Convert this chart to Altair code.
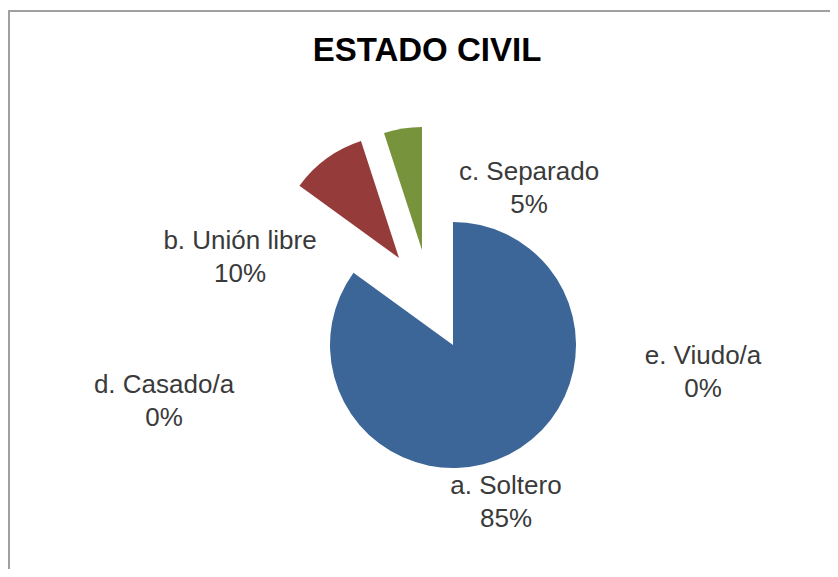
import altair as alt
import pandas as pd

# ---- data ----
categories = ["a. Soltero", "b. Unión libre", "c. Separado", "d. Casado/a", "e. Viudo/a"]
values = [85, 10, 5, 0, 0]

# ---- style / layout (not data) ----
colors = ["#3C6598", "#953B3A", "#77933C", "#4BACC6", "#8064A2"]
explode_dx = [0, -54, -31, 0, 0]
explode_dy = [0, -87, -95, 0, 0]
label_dx = [53, -213, 76, -289, 250]
label_dy = [141, -104, -173, 40, 11]

W, H = 822, 561
CX, CY = 445, 337   # pie centre in chart coords
R = 123

df = pd.DataFrame({
    "cat": categories,
    "value": values,
    "edx": explode_dx,
    "edy": explode_dy,
    "ldx": label_dx,
    "ldy": label_dy,
})

base = alt.Chart(df).transform_joinaggregate(
    total="sum(value)"
).transform_window(
    cum="sum(value)", sort=[alt.SortField("cat")], frame=[None, 0]
).transform_calculate(
    end_frac="datum.cum / datum.total",
    start_frac="(datum.cum - datum.value) / datum.total",
    px=f"{CX} + datum.edx",
    py=f"{CY} + datum.edy",
    lx=f"{CX} + datum.ldx",
    ly=f"{CY} + datum.ldy",
    label="datum.cat + '\\n' + format(datum.value / datum.total, '.0%')",
)

color_scale = alt.Scale(domain=categories, range=colors)

arcs = base.mark_arc(radius=R, stroke=None).encode(
    theta=alt.Theta("start_frac:Q", scale=alt.Scale(domain=[0, 1], range=[0, 6.283185307179586])),
    theta2="end_frac:Q",
    x=alt.X("px:Q", scale=None),
    y=alt.Y("py:Q", scale=None),
    color=alt.Color("cat:N", scale=color_scale, legend=None),
)

labels = base.mark_text(
    font="Liberation Sans", fontSize=26, color="#3A3A3A",
    lineBreak="\n", lineHeight=33, align="center", baseline="middle",
).encode(
    x=alt.X("lx:Q", scale=None),
    y=alt.Y("ly:Q", scale=None),
    text="label:N",
)

title_df = pd.DataFrame({"t": ["ESTADO CIVIL"]})
title = alt.Chart(title_df).mark_text(
    font="Liberation Sans", fontSize=33, fontWeight="bold", color="#000000",
    align="center", baseline="middle",
).encode(x=alt.value(419), y=alt.value(43), text="t:N")

one = pd.DataFrame({"k": [0]})
left_border = alt.Chart(one).mark_rule(color="#A0A0A0", strokeWidth=2).encode(
    x=alt.value(1), y=alt.value(2), y2=alt.value(H)
)
top_border = alt.Chart(one).mark_rule(color="#A0A0A0", strokeWidth=2).encode(
    x=alt.value(0), x2=alt.value(W), y=alt.value(3)
)

chart = alt.layer(left_border, top_border, arcs, labels, title).properties(
    width=W, height=H, autosize=alt.AutoSizeParams(type="none"), padding=0,
).configure_view(stroke=None)

chart.save("out.html", embed_options={"renderer": "svg", "actions": False})
